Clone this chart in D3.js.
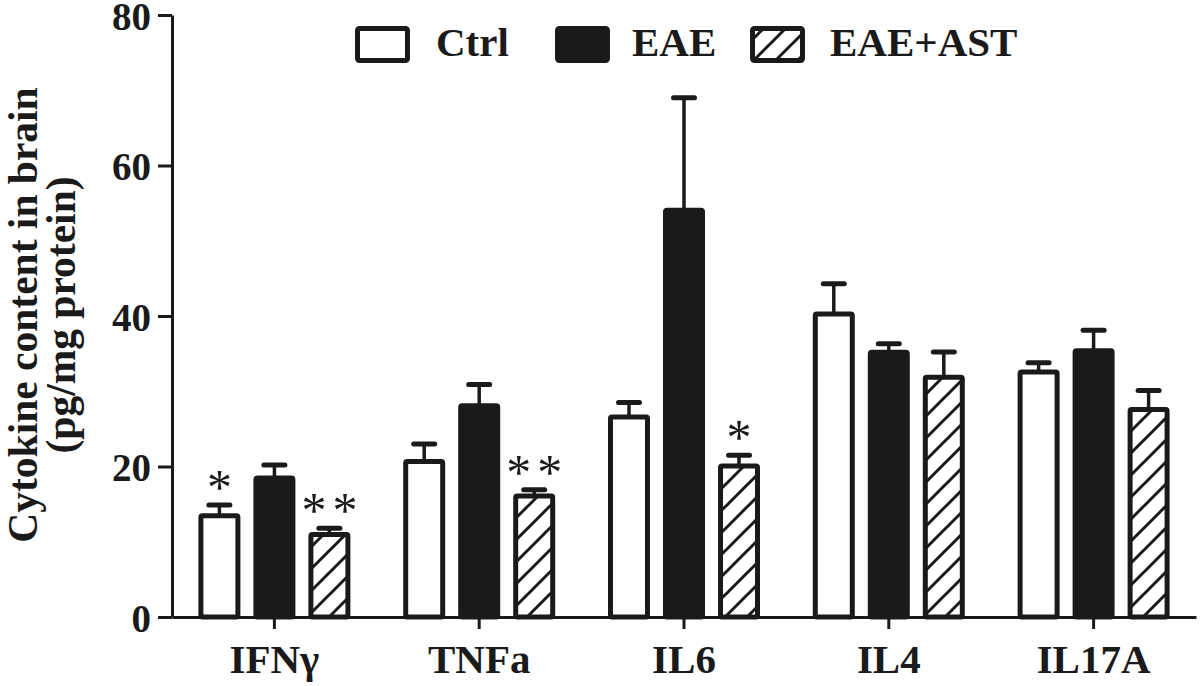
<!DOCTYPE html>
<html>
<head>
<meta charset="utf-8">
<script src="https://cdn.jsdelivr.net/npm/d3@7"></script>
<style>
  body { margin: 0; background: #fff; }
  svg text { font-family: "Liberation Serif", "Times New Roman", serif; fill: #1a1a1a; }
</style>
</head>
<body>
<svg id="chart" width="1200" height="686"></svg>
<script>

// data
var categories = ["IFNγ", "TNFa", "IL6", "IL4", "IL17A"];
var series = ["Ctrl", "EAE", "EAE+AST"];
var ctrlValues = [13.8, 21.0, 26.9, 40.6, 32.9];
var ctrlErrors = [1.1, 2.0, 1.6, 3.7, 0.9];
var eaeValues = [18.8, 28.4, 54.4, 35.5, 35.7];
var eaeErrors = [1.4, 2.5, 14.6, 0.8, 2.4];
var astValues = [11.3, 16.4, 20.4, 32.2, 27.9];
var astErrors = [0.5, 0.5, 1.1, 3.0, 2.2];
var yTicks = [0, 20, 40, 60, 80];
var marks = [
    {cat: "IFNγ", s: "Ctrl", label: "*"},
    {cat: "IFNγ", s: "EAE+AST", label: "**"},
    {cat: "TNFa", s: "EAE+AST", label: "**"},
    {cat: "IL6", s: "EAE+AST", label: "*"}
];

var ink = "#1a1a1a";
var svg = d3.select("#chart");

var x0 = 172, x1 = 1196, yBase = 617, yTop = 15;

var x = d3.scaleBand().domain(categories).range([x0, x1]);
var xs = d3.scaleBand().domain(series)
    .range([-82.5, 82.5])
    .paddingInner(13 / 55)
    .paddingOuter(13 / 110);
var y = d3.scaleLinear().domain([0, 80]).range([yBase, yTop]);

var valuesBySeries = {"Ctrl": ctrlValues, "EAE": eaeValues, "EAE+AST": astValues};
var errorsBySeries = {"Ctrl": ctrlErrors, "EAE": eaeErrors, "EAE+AST": astErrors};

var data = [];
categories.forEach(function (c, i) {
    series.forEach(function (s) {
        data.push({cat: c, s: s, v: valuesBySeries[s][i], e: errorsBySeries[s][i]});
    });
});

function barCenter(d) {
    return x(d.cat) + x.bandwidth() / 2 + xs(d.s) + xs.bandwidth() / 2;
}

// hatch pattern
var defs = svg.append("defs");
var pat = defs.append("pattern")
    .attr("id", "hatch")
    .attr("patternUnits", "userSpaceOnUse")
    .attr("width", 22).attr("height", 22);
pat.append("path")
    .attr("d", "M-5.5,5.5 L5.5,-5.5 M0,22 L22,0 M16.5,27.5 L27.5,16.5")
    .attr("stroke", ink).attr("stroke-width", 3);

function fillFor(s) {
    if (s === "Ctrl") return "#fff";
    if (s === "EAE") return ink;
    return "url(#hatch)";
}

var sw = 5;

// error bars (drawn first so the bar outline covers the stem base)
var err = svg.append("g").selectAll("g").data(data).enter().append("g");
err.append("line")
    .attr("x1", barCenter).attr("x2", barCenter)
    .attr("y1", function (d) { return y(d.v) + 2; })
    .attr("y2", function (d) { return y(d.v + d.e); })
    .attr("stroke", ink).attr("stroke-width", 3.5);
err.append("line")
    .attr("x1", function (d) { return barCenter(d) - 10.5; })
    .attr("x2", function (d) { return barCenter(d) + 10.5; })
    .attr("y1", function (d) { return y(d.v + d.e); })
    .attr("y2", function (d) { return y(d.v + d.e); })
    .attr("stroke", ink).attr("stroke-width", 5)
    .attr("stroke-linecap", "round");

// bars
svg.append("g").selectAll("rect").data(data).enter().append("rect")
    .attr("x", function (d) { return barCenter(d) - xs.bandwidth() / 2 + sw / 2; })
    .attr("width", xs.bandwidth() - sw)
    .attr("y", function (d) { return y(d.v) + sw / 2; })
    .attr("height", function (d) { return yBase - y(d.v) - sw / 2; })
    .attr("fill", function (d) { return fillFor(d.s); })
    .attr("stroke", ink).attr("stroke-width", sw)
    .attr("rx", 1.5);

// significance marks
svg.append("g").selectAll("text").data(marks).enter().append("text")
    .attr("x", function (m) { return barCenter(m) + (m.label.length > 1 ? 3 : 0); })
    .attr("y", function (m) {
        var d = data.filter(function (q) { return q.cat === m.cat && q.s === m.s; })[0];
        return y(d.v + d.e) - 1;
    })
    .attr("text-anchor", "middle")
    .style("font-size", "50px")
    .style("letter-spacing", function (m) { return m.label.length > 1 ? "6px" : "0px"; })
    .text(function (m) { return m.label; });

// y axis
var yAxis = svg.append("g")
    .attr("transform", "translate(" + x0 + ",0)")
    .call(d3.axisLeft(y).tickValues(yTicks).tickSize(14).tickSizeOuter(0).tickPadding(7));
yAxis.select(".domain").attr("stroke", ink).attr("stroke-width", 3);
yAxis.selectAll(".tick line").attr("stroke", ink).attr("stroke-width", 3);
yAxis.selectAll(".tick text")
    .attr("dy", "0.36em")
    .style("font-size", "39px").style("font-weight", "bold")
    .attr("fill", ink);

// x axis
var xAxis = svg.append("g")
    .attr("transform", "translate(0," + yBase + ")")
    .call(d3.axisBottom(x).tickSize(12).tickSizeOuter(0).tickPadding(15));
xAxis.select(".domain").attr("stroke", ink).attr("stroke-width", 3);
xAxis.selectAll(".tick line").attr("stroke", ink).attr("stroke-width", 3);
xAxis.selectAll(".tick text")
    .attr("dy", "0.71em")
    .style("font-size", "41px").style("font-weight", "bold")
    .attr("fill", ink);

// y title
var titleLines = ["Cytokine content in brain", "(pg/mg protein)"];
var titleX = [37, 75];
titleLines.forEach(function (t, i) {
    svg.append("text")
        .attr("transform", "translate(" + titleX[i] + ",315) rotate(-90)")
        .attr("text-anchor", "middle")
        .style("font-size", "41.5px").style("font-weight", "bold")
        .text(t);
});

// legend
var legendX = [355, 555, 750];
var legendTextX = [436, 632, 830];
var lg = svg.append("g").selectAll("g").data(series).enter().append("g");
lg.append("rect")
    .attr("x", function (d, i) { return legendX[i] + sw / 2; })
    .attr("y", 26 + sw / 2)
    .attr("width", 55 - sw).attr("height", 37 - sw)
    .attr("rx", 2)
    .attr("fill", function (d) { return fillFor(d); })
    .attr("stroke", ink).attr("stroke-width", sw);
lg.append("text")
    .attr("x", function (d, i) { return legendTextX[i]; })
    .attr("y", 56)
    .style("font-size", "41px").style("font-weight", "bold")
    .text(function (d) { return d; });

</script>
</body>
</html>
